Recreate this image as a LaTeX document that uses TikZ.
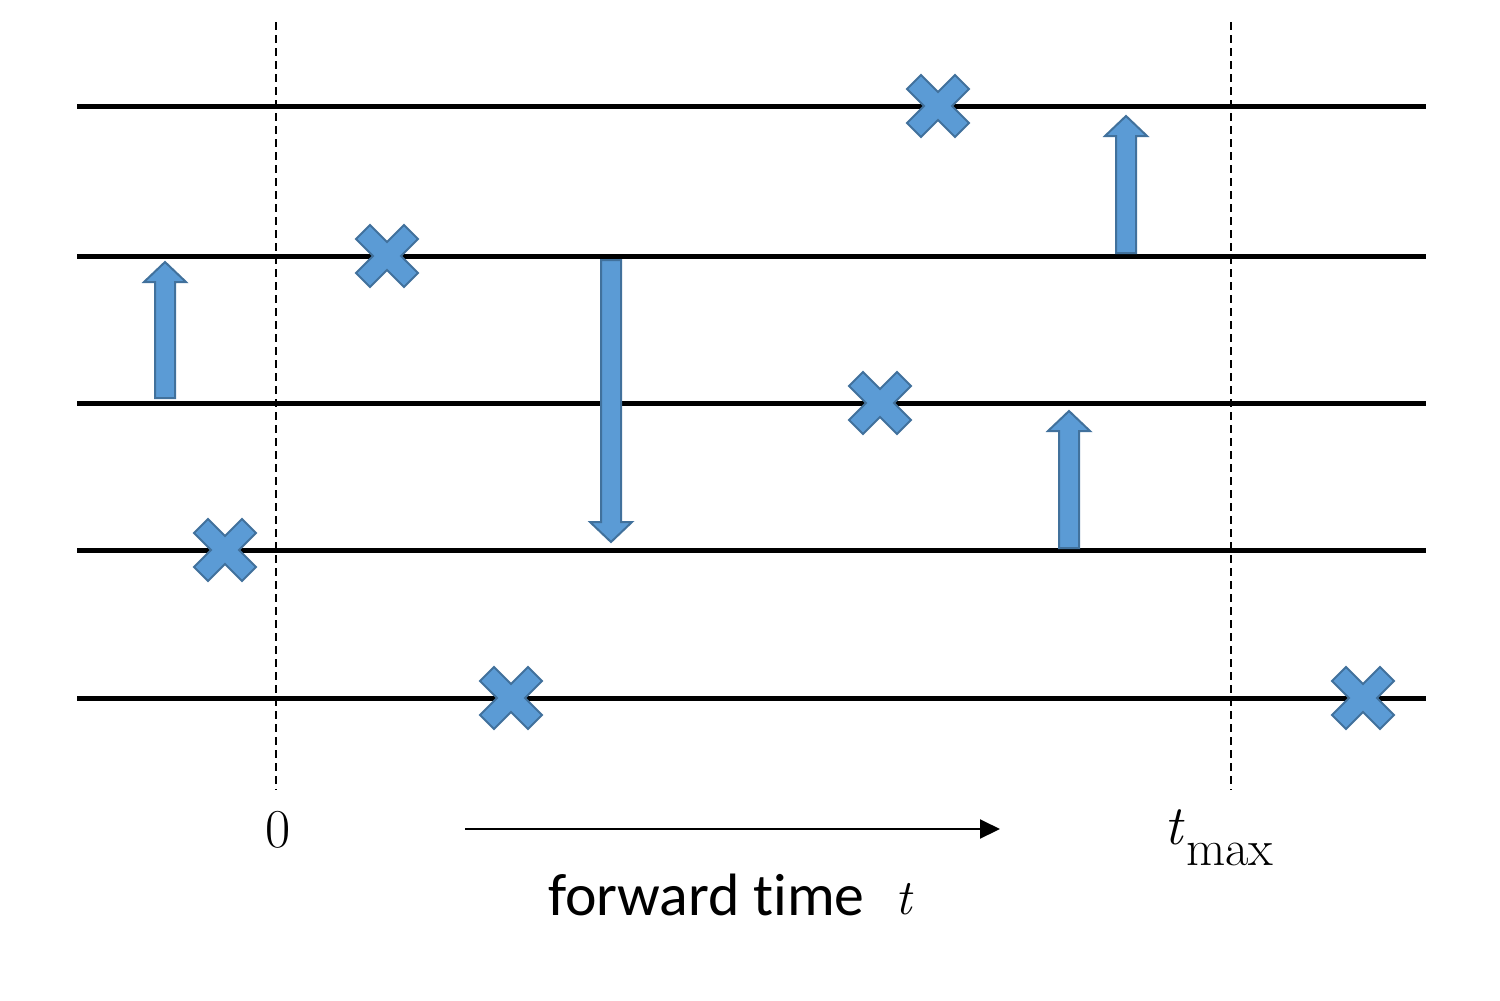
\documentclass[tikz,border=0pt]{standalone}
\usepackage{fontspec}
\newfontfamily\calibri[Ligatures=NoCommon]{Carlito}
\usetikzlibrary{arrows.meta,calc}
\definecolor{xfill}{HTML}{5B9BD5}
\definecolor{xedge}{HTML}{41719C}
\tikzset{
  level/.style={line width=5bp,black},
  guide/.style={line width=1.6bp,dash pattern=on 8bp off 5bp},
  marker/.style={fill=xfill,draw=xedge,line width=2bp,line join=miter},
  jump/.style={fill=xfill,draw=xedge,line width=2bp,line join=miter},
  lbl/.style={inner sep=0pt,anchor=base}
}
\newcommand\xmark[3]{%
  \coordinate (#1) at (#2,#3);
  \begin{scope}[shift={(#1)}]
    \draw[marker] (0,-14) -- (17,-31) -- (31,-17) -- (14,0) -- (31,17) -- (17,31) -- (0,14) -- (-17,31) -- (-31,17) -- (-14,0) -- (-31,-17) -- (-17,-31) -- cycle;
  \end{scope}}
% name, x, base y, tip y, head length (signed)
\newcommand\blockarrow[5]{%
  \coordinate (#1) at (#2,#4);
  \draw[jump] ({#2-10},#3) -- ({#2-10},{#4+(#5)}) -- ({#2-21},{#4+(#5)}) -- (#2,#4) -- ({#2+21},{#4+(#5)}) -- ({#2+10},{#4+(#5)}) -- ({#2+10},#3) -- cycle;}
\begin{document}
\begin{tikzpicture}[x=1bp,y=-1bp]
\useasboundingbox (0,0) rectangle (1500,1000);
% horizontal levels
\foreach \n/\yy in {a/106,b/256,c/403,d/550,e/698}{
  \coordinate (L\n) at (77,\yy);
  \coordinate (R\n) at (1426,\yy);
  \draw[level] (L\n) -- (R\n);
}
% dashed guides
\coordinate (g0t) at (276,22); \coordinate (g0b) at (276,790);
\coordinate (g1t) at (1231,22); \coordinate (g1b) at (1231,790);
\draw[guide] (g0t) -- (g0b);
\draw[guide] (g1t) -- (g1b);
% crosses
\xmark{x1}{938}{106}
\xmark{x2}{387}{256}
\xmark{x3}{880}{403}
\xmark{x4}{225}{550}
\xmark{x5}{511}{698}
\xmark{x6}{1363}{698}
% block arrows
\blockarrow{a1}{165}{398}{262}{20}
\blockarrow{a2}{1126}{253}{116}{20}
\blockarrow{a3}{611}{260}{542}{-20}
\blockarrow{a4}{1069}{548}{411}{20}
% labels
\node[lbl] (zero) at (278,847) {\fontsize{55}{60}\selectfont 0};
\node[lbl,anchor=base west] (tmax) at (1164,844) {\fontsize{56}{60}\selectfont\itshape t\kern4bp\raisebox{-21bp}{\fontsize{51}{55}\selectfont\upshape max}};
\node[lbl,anchor=base west] (fwd) at (548,915) {\fontsize{60}{64}\selectfont\calibri forward time};
\node[lbl,anchor=base west] (tvar) at (895,914) {\fontsize{50}{54}\selectfont\itshape t};
% time arrow
\coordinate (ts) at (465,829);
\coordinate (te) at (1000,829);
\draw[line width=2bp,-{Triangle[length=20bp,width=19bp]}] (ts) -- (te);
\end{tikzpicture}
\end{document}
